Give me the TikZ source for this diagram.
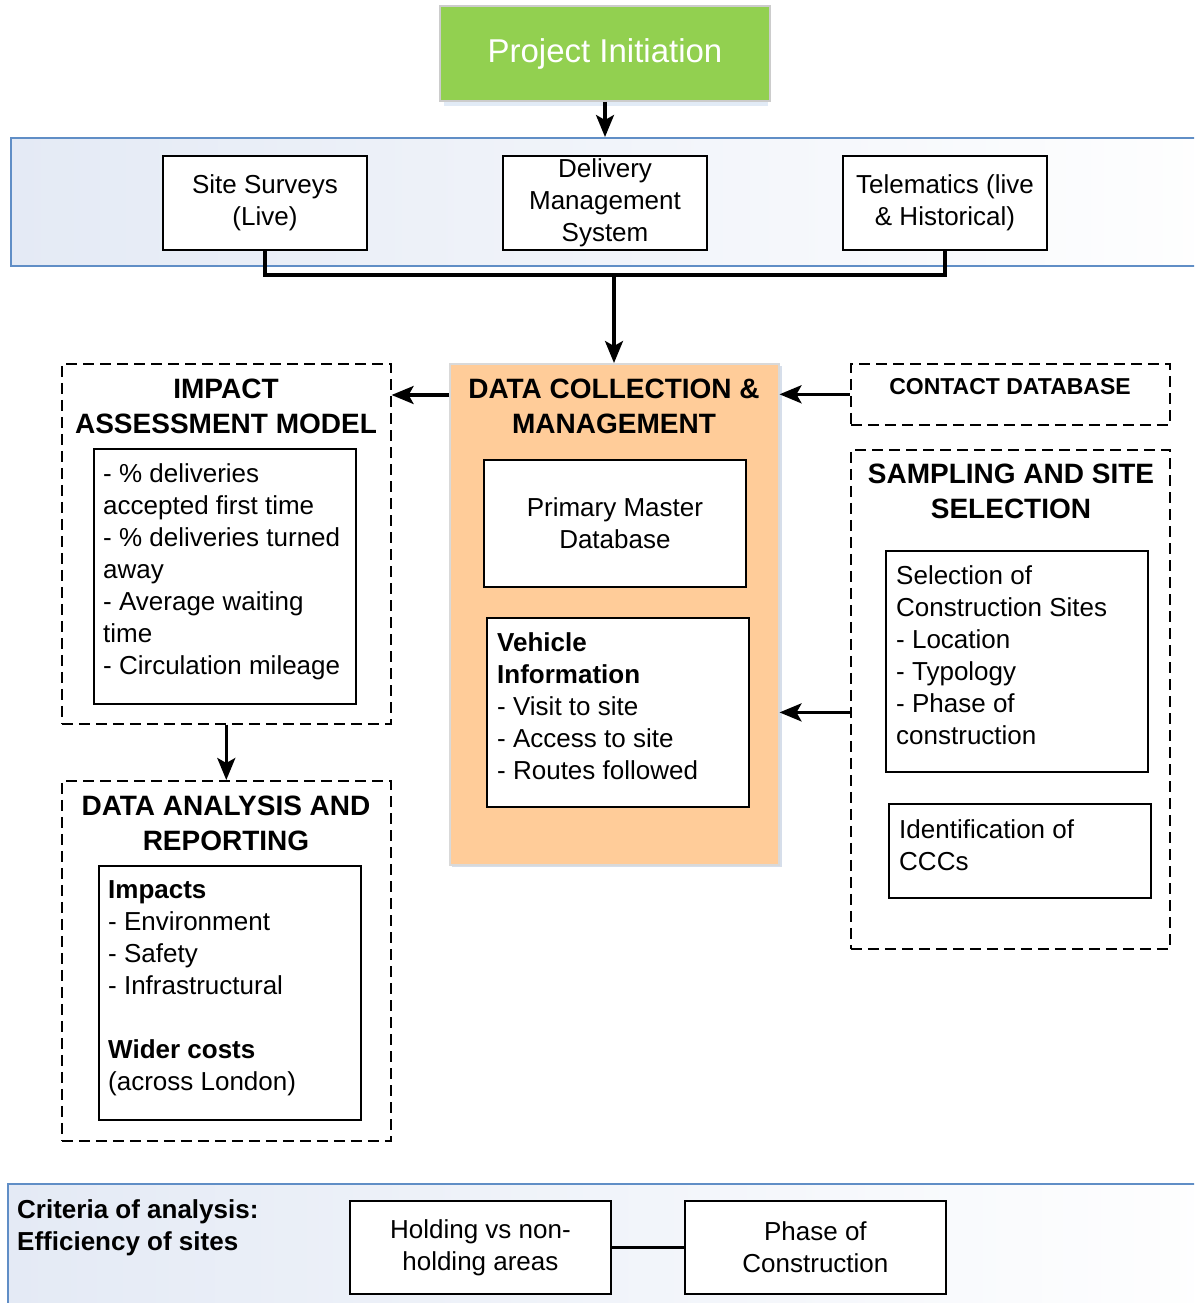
\documentclass[tikz,border=0pt]{standalone}
\usepackage{fontspec}
\setmainfont{Liberation Sans}
\usetikzlibrary{arrows.meta,calc}
\definecolor{pigreen}{RGB}{146,208,80}
\definecolor{peach}{RGB}{255,204,153}
\definecolor{bandblue}{RGB}{96,142,198}
\definecolor{bandtint}{RGB}{228,234,245}
\definecolor{haze}{RGB}{226,235,246}
\definecolor{sidehaze}{RGB}{214,222,234}
\begin{document}
\begin{tikzpicture}[x=1pt,y=-1pt,
  box/.style={draw, line width=1.8pt, fill=white, inner sep=0pt},
  dbox/.style={draw, line width=1.6pt, dash pattern=on 11pt off 6pt, inner sep=0pt},
  body/.style={font=\fontsize{26}{32}\selectfont, inner sep=0pt},
  head/.style={font=\fontsize{28}{35}\selectfont\bfseries, inner sep=0pt, align=center},
  arr/.style={line width=3.2pt, -{Stealth[length=22pt,width=18pt,inset=5pt]}},
  bandbox/.style={draw=bandblue, line width=2pt, anchor=north west, inner sep=0pt,
    left color=bandtint, middle color=white, right color=white}
]
\useasboundingbox (0,0) rectangle (1194,1303);

% shaded bands running off the right edge
\begin{scope}
  \clip (0,0) rectangle (1194,1303);
  \node[bandbox, minimum width=1240pt, minimum height=128pt] (band) at (10,137) {};
  \node[bandbox, minimum width=1240pt, minimum height=160pt] (crit) at (7,1183) {};
\end{scope}

% start box with its soft shadow
\fill[haze] (444,10) rectangle (768,106);
\node[draw=gray!40, line width=1.6pt, fill=pigreen, text=white, inner sep=0pt,
  minimum width=330pt, minimum height=95pt, font=\fontsize{33}{40}\selectfont]
  (pi) at (605,53.5) {Project Initiation};

% data sources
\node[box, body, align=center, minimum width=204pt, minimum height=94pt] (site) at (265,203) {Site Surveys\\(Live)};
\node[box, body, align=center, minimum width=204pt, minimum height=94pt] (dms) at (605,203) {Delivery\\Management\\System};
\node[box, body, align=center, minimum width=204pt, minimum height=94pt] (tele) at (945,203) {Telematics (live\\\& Historical)};

% central data collection block
\fill[sidehaze] (452,366) rectangle (782,867);
\node[draw=gray!30, line width=1.5pt, fill=peach, anchor=north west, inner sep=0pt,
  minimum width=329pt, minimum height=501pt] (orange) at (449,363) {};
\node[head, anchor=north] (otitle) at (614,379) {DATA COLLECTION \&\\MANAGEMENT};
\node[box, body, align=center, anchor=north west, minimum width=262pt, minimum height=127pt] (master) at (483,459) {Primary Master\\Database};
\node[box, anchor=north west, minimum width=262pt, minimum height=189pt] (vehicle) at (486,617) {};
\node[body, align=left, anchor=north west] (vtext) at (497,632)
  {\textbf{Vehicle}\\\textbf{Information}\\- Visit to site\\- Access to site\\- Routes followed};

% impact assessment model
\node[dbox, anchor=north west, minimum width=329pt, minimum height=360pt] (impact) at (61,363) {};
\node[head, anchor=north] (ititle) at (226,379) {IMPACT\\ASSESSMENT MODEL};
\node[box, anchor=north west, minimum width=262pt, minimum height=255pt] (kpi) at (93,448) {};
\node[body, align=left, anchor=north west] (kpitext) at (103,463)
  {- \% deliveries\\accepted first time\\- \% deliveries turned\\away\\- Average waiting\\time\\- Circulation mileage};

% data analysis and reporting
\node[dbox, anchor=north west, minimum width=329pt, minimum height=360pt] (analysis) at (61,780) {};
\node[head, anchor=north] (atitle) at (226,796) {DATA ANALYSIS AND\\REPORTING};
\node[box, anchor=north west, minimum width=262pt, minimum height=254pt] (impacts) at (98,865) {};
\node[body, align=left, anchor=north west] (imptext) at (108,880)
  {\textbf{Impacts}\\- Environment\\- Safety\\- Infrastructural\\[32pt]\textbf{Wider costs}\\(across London)};

% contact database
\node[dbox, anchor=north west, minimum width=319pt, minimum height=61pt] (contact) at (850,363) {};
\node[inner sep=0pt, anchor=north, font=\fontsize{23}{28}\selectfont\bfseries] (ctext) at (1010,378) {CONTACT DATABASE};

% sampling and site selection
\node[dbox, anchor=north west, minimum width=319pt, minimum height=499pt] (sampling) at (850,449) {};
\node[head, anchor=north] (stitle) at (1011,464) {SAMPLING AND SITE\\SELECTION};
\node[box, anchor=north west, minimum width=262pt, minimum height=221pt] (selection) at (885,550) {};
\node[body, align=left, anchor=north west] (seltext) at (896,565)
  {Selection of\\Construction Sites\\- Location\\- Typology\\- Phase of\\construction};
\node[box, anchor=north west, minimum width=262pt, minimum height=94pt] (ccc) at (888,803) {};
\node[body, align=left, anchor=north west] (ccctext) at (899,819) {Identification of\\CCCs};

% criteria of analysis
\node[body, align=left, anchor=north west, font=\fontsize{26}{32}\selectfont\bfseries] (ctitle) at (17,1199)
  {Criteria of analysis:\\Efficiency of sites};
\node[box, body, align=center, anchor=north west, minimum width=261pt, minimum height=93pt] (holding) at (349,1200) {Holding vs non-\\holding areas};
\node[box, body, align=center, anchor=north west, minimum width=261pt, minimum height=93pt] (phase) at (684,1200) {Phase of\\Construction};

% connectors
\coordinate (bus) at (614,275);
\draw[arr] (pi.south) -- (pi.south |- band.north);
\draw[line width=3.6pt] (site.south) |- (bus) -| (tele.south);
\draw[arr] (bus) -- (bus |- orange.north);
\draw[arr] ([yshift=-32pt]orange.north west) -- ([yshift=-32pt]impact.north east);
\draw[arr] (contact.west) -- (contact.west -| orange.east);
\draw[arr] (sampling.west |- vehicle.east) -- (orange.east |- vehicle.east);
\draw[arr] (impact.south) -- (analysis.north);
\draw[line width=2.2pt] (holding.east) -- (phase.west);
\end{tikzpicture}
\end{document}
